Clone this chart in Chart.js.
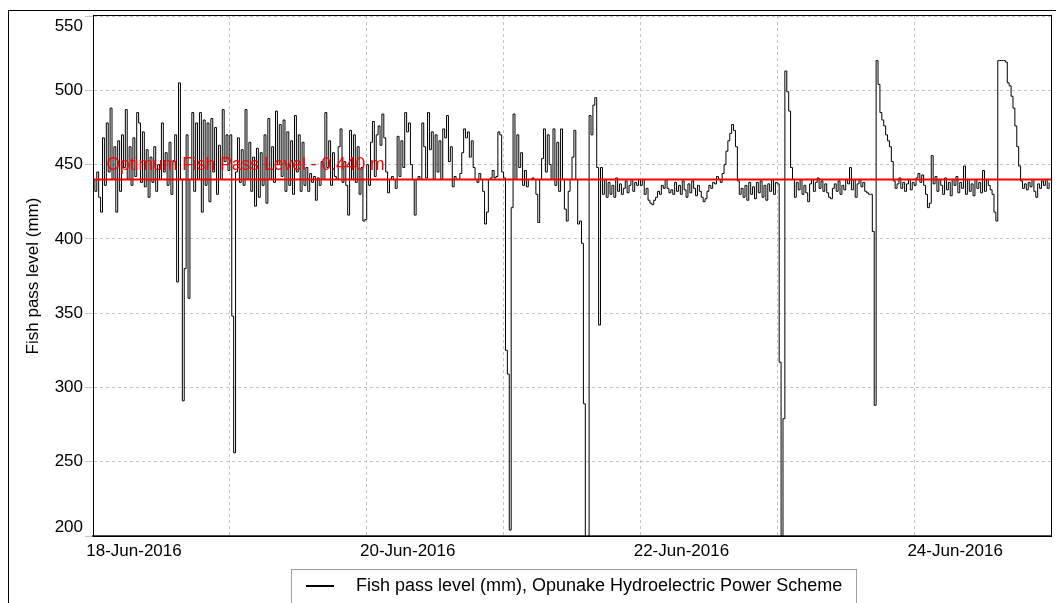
<!DOCTYPE html>
<html><head><meta charset="utf-8">
<script src="https://cdn.jsdelivr.net/npm/chart.js@4.4.0/dist/chart.umd.min.js"></script>
<style>html,body{margin:0;padding:0;background:#fff;}canvas{display:block;}</style>
</head><body>
<canvas id="c" width="1056" height="603"></canvas>
<script>
// ---- data (mm), one reading every 20 minutes, 72 per day ----
const seriesLabel = 'Fish pass level (mm), Opunake Hydroelectric Power Scheme';
const day18 = [440,432,445,428,418,468,436,478,445,488,
 440,462,418,466,432,470,448,487,440,462,
 436,468,442,485,478,438,472,435,460,428,
 455,438,462,432,450,440,478,445,458,436,
 465,430,452,470,371,505,440,291,380,470,
 360,440,485,432,478,440,485,418,480,436,
 478,425,481,445,475,430,463,440,487,452,
 470,446];
const day19 = [470,348,256,445,468,438,460,436,487,440,
 465,432,455,422,461,428,458,436,470,424,
 481,440,462,438,486,450,477,442,480,432,
 472,436,466,430,483,445,470,432,465,436,
 448,432,444,438,442,426,441,436,452,440,
 485,448,466,436,458,442,440,462,474,438,
 452,436,416,473,440,470,438,462,430,448,
 412,413];
const day20 = [450,436,465,479,442,470,476,463,484,468,
 445,431,440,442,440,434,469,442,466,448,
 485,472,478,450,440,416,440,442,440,478,
 462,441,485,460,472,440,470,445,466,440,
 474,468,483,452,462,435,442,440,440,444,
 458,474,468,472,455,466,448,440,438,444,
 440,432,410,418,440,441,446,441,442,472,
 470,445];
const day21 = [441,325,309,204,421,484,440,470,448,458,
 436,446,435,440,440,441,440,430,411,440,
 454,474,445,470,450,440,474,436,465,432,
 474,440,420,412,432,440,455,473,440,410,
 412,397,289,198,198,483,470,490,495,448,
 342,448,430,440,428,438,430,436,428,441,
 432,437,430,434,439,431,436,440,432,438,
 436,440];
const day22 = [436,440,430,434,426,424,423,426,428,432,
 430,436,434,440,434,431,433,430,438,432,
 436,430,439,433,428,437,431,439,434,429,
 436,432,428,425,427,432,436,434,438,437,
 442,440,438,444,450,459,466,471,477,473,
 462,439,430,434,428,436,426,438,430,435,
 427,438,431,439,428,436,426,437,432,440,
 430,438];
const day23 = [437,317,198,279,513,499,486,448,440,428,
 438,433,440,430,436,431,425,437,440,432,
 438,441,434,439,432,437,431,428,427,434,
 437,432,439,430,436,433,440,437,448,433,
 440,428,437,440,435,438,432,431,430,430,
 405,288,520,504,485,480,476,470,466,462,
 452,439,434,437,441,434,438,432,437,440,
 433,438];
const day24 = [436,441,444,438,443,436,430,421,424,456,
 437,442,432,440,436,430,441,433,438,429,
 440,436,442,431,438,434,449,430,440,432,
 437,429,440,434,438,431,446,432,440,436,
 433,430,418,412,520,520,520,520,519,505,
 503,496,488,476,462,449,439,434,437,433,
 438,435,440,432,428,437,434,439,436,440,
 434,438];
const dayTickLabels = ['18-Jun-2016','','20-Jun-2016','','22-Jun-2016','','24-Jun-2016',''];
const refLevel = 440;
const refLabel = 'Optimum Fish Pass Level - 0.440 m';
const minutesPerReading = 20;

// ---- build points ----
const readings = [].concat(day18, day19, day20, day21, day22, day23, day24);
const points = readings.map((v, i) => ({x: i * minutesPerReading / 60, y: v}));

const axisFont = {family: '"Liberation Sans", Arial, sans-serif', size: 17};
const axisFontStr = axisFont.size + 'px ' + axisFont.family;

const decorations = {
  id: 'decorations',
  beforeDraw(chart){
    const ctx = chart.ctx; ctx.save(); ctx.fillStyle = '#fff';
    ctx.fillRect(0, 0, chart.width, chart.height); ctx.restore();
  },
  afterDatasetsDraw(chart){
    const {ctx, chartArea: a, scales: {x, y}} = chart;
    ctx.save();
    ctx.beginPath(); ctx.rect(a.left, a.top, a.right - a.left, a.bottom - a.top); ctx.clip();
    ctx.fillStyle = '#ff0000';
    ctx.font = '17.5px "Liberation Sans", Arial, sans-serif';
    ctx.textAlign = 'left'; ctx.textBaseline = 'alphabetic';
    ctx.fillText(refLabel, x.getPixelForValue(2.35), y.getPixelForValue(refLevel) - 9.5);
    ctx.restore();
  },
  afterDraw(chart){
    const {ctx, chartArea: a, scales: {y}} = chart;
    ctx.save();
    // plot frame
    ctx.strokeStyle = '#000'; ctx.lineWidth = 1;
    ctx.strokeRect(Math.round(a.left) + 0.5, Math.round(a.top) - 0.5, Math.round(a.right - a.left), Math.round(a.bottom - a.top) + 1);
    // outer frame
    ctx.strokeRect(8.5, 10.5, 2000, 2000);
    // y tick labels
    ctx.fillStyle = '#000'; ctx.font = axisFontStr;
    ctx.textAlign = 'right'; ctx.textBaseline = 'middle';
    y.ticks.forEach(t => {
      let py = y.getPixelForValue(t.value);
      py = Math.max(a.top + 10, Math.min(a.bottom - 9, py));
      ctx.fillText(String(t.value), 83, py);
    });
    // legend
    ctx.fillStyle = '#fff'; ctx.fillRect(292, 569, 565, 60);
    ctx.strokeStyle = '#a0a0a0'; ctx.strokeRect(291.5, 569.5, 565, 60);
    ctx.strokeStyle = '#000'; ctx.lineWidth = 2;
    ctx.beginPath(); ctx.moveTo(306, 586); ctx.lineTo(334, 586); ctx.stroke();
    ctx.fillStyle = '#000'; ctx.textAlign = 'left'; ctx.textBaseline = 'middle';
    ctx.font = '18px "Liberation Sans", Arial, sans-serif';
    ctx.fillText(chart.data.datasets[1].label, 356, 586);
    ctx.restore();
  }
};

new Chart(document.getElementById('c'), {
  type: 'line',
  data: {
    datasets: [
      {label: 'Optimum', data: [{x: 0, y: refLevel}, {x: 168, y: refLevel}],
       borderColor: '#ff0000', borderWidth: 2, pointRadius: 0, order: 1},
      {label: seriesLabel, data: points, borderColor: '#000', borderWidth: 1,
       pointRadius: 0, stepped: true, order: 2}
    ]
  },
  options: {
    responsive: false, animation: false, devicePixelRatio: 1,
    layout: {padding: {left: 0, top: 16, right: 2, bottom: 0}},
    plugins: {legend: {display: false}, tooltip: {enabled: false}},
    scales: {
      x: {
        type: 'linear', min: 0, max: 168,
        afterFit: s => { s.height = 67; },
        grid: {color: '#c4c4c4', drawTicks: false},
        border: {display: true, color: '#505050', width: 2, dash: [3, 3]},
        ticks: {
          stepSize: 24, autoSkip: false, maxRotation: 0, labelOffset: 41, padding: 5,
          color: '#000', font: axisFont,
          callback: v => dayTickLabels[Math.round(v / 24)] || ''
        }
      },
      y: {
        min: 200, max: 550,
        afterFit: s => { s.width = 93; },
        grid: {color: '#c4c4c4', tickLength: 8},
        border: {display: true, color: '#000', width: 1, dash: [3, 3]},
        ticks: {stepSize: 50, display: false},
        title: {display: true, text: 'Fish pass level (mm)', color: '#000',
                font: axisFont, padding: {top: 23, bottom: 0}}
      }
    }
  },
  plugins: [decorations]
});
</script>
</body></html>
